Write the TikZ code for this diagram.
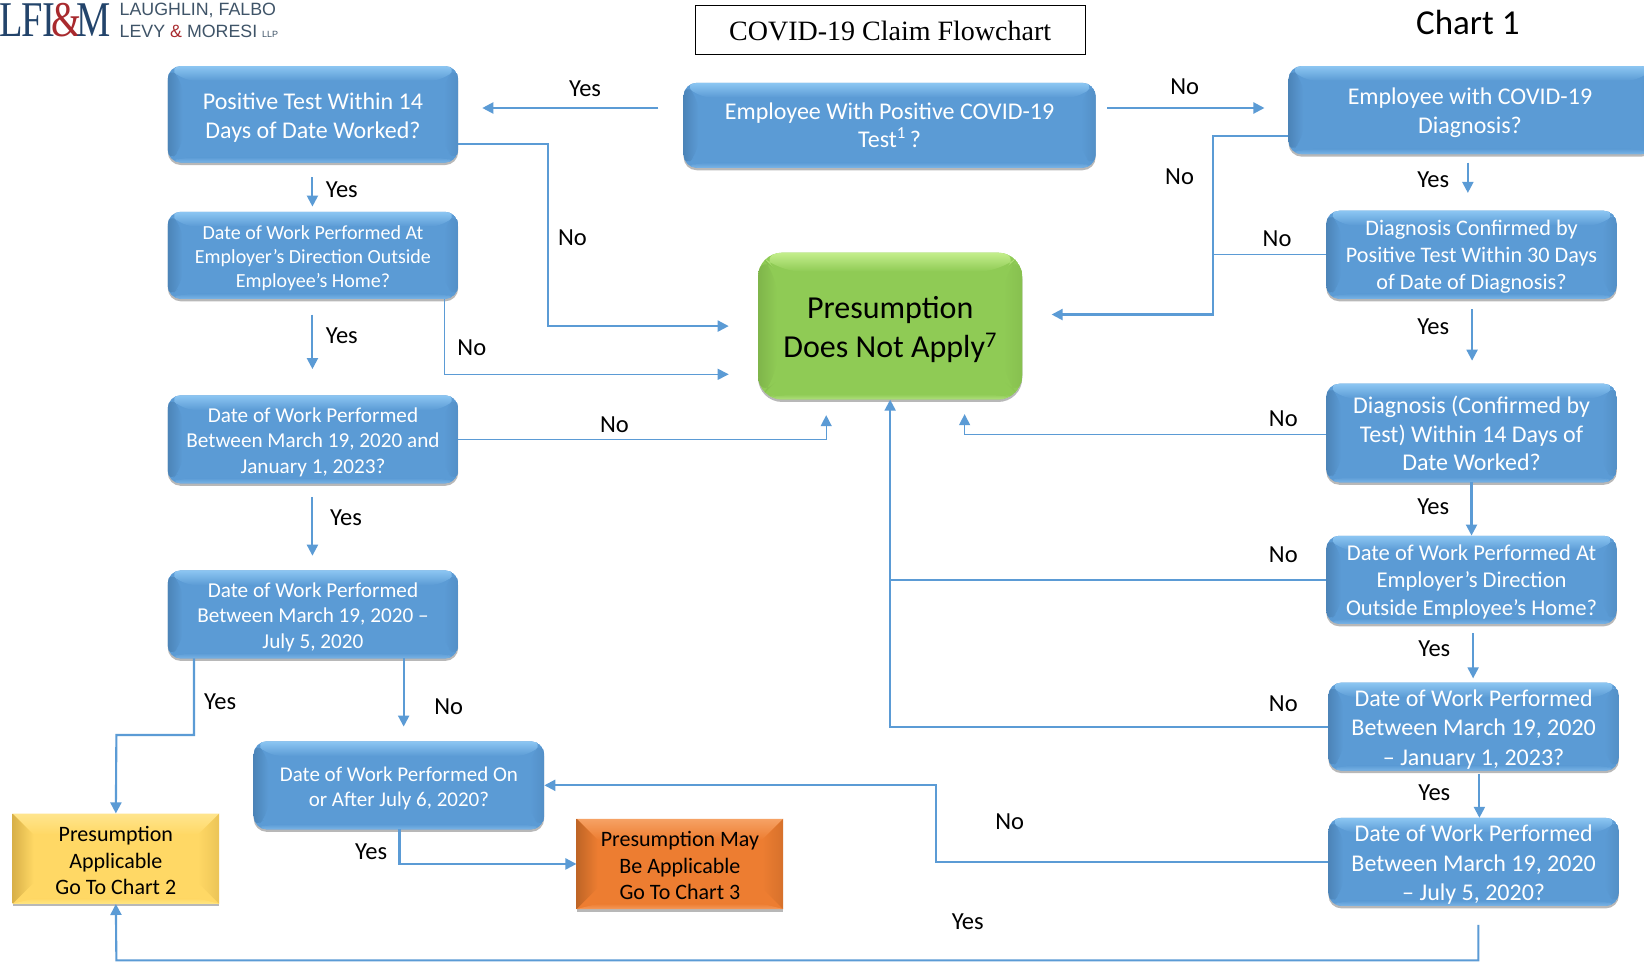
\documentclass[tikz,border=0pt]{standalone}
\usepackage{fontspec}
\usepackage{graphicx}
\setmainfont{Carlito}
\newfontfamily\ttl{Liberation Serif}
\newfontfamily\lgs{Liberation Sans}
\usetikzlibrary{arrows.meta,shadows,calc}
\definecolor{ln}{HTML}{5B9BD5}
\definecolor{navy}{HTML}{23446B}
\definecolor{lred}{HTML}{A82A2E}
\definecolor{logog}{HTML}{3F5468}
\definecolor{bB}{HTML}{5B9BD5}\definecolor{bL}{HTML}{8CC6F2}\definecolor{bD}{HTML}{4C84B8}\definecolor{bE}{HTML}{7AB4E6}
\definecolor{gB}{HTML}{8FCB55}\definecolor{gL}{HTML}{C4EE8C}\definecolor{gD}{HTML}{7FB54A}\definecolor{gE}{HTML}{B0E07C}
\definecolor{yB}{HTML}{FFD865}\definecolor{yL}{HTML}{FFE58E}\definecolor{yD}{HTML}{D8B048}\definecolor{yE}{HTML}{FFE684}
\definecolor{oB}{HTML}{ED7D31}\definecolor{oL}{HTML}{F6A265}\definecolor{oD}{HTML}{BF6526}\definecolor{oE}{HTML}{F49A5C}
\newcommand\tp[1]{\rule{0pt}{#1pt}}
\newcommand\bevelpic[5]{%
  \coordinate (sw) at (path picture bounding box.south west);
  \coordinate (ne) at (path picture bounding box.north east);
  \coordinate (nw) at (sw |- ne);
  \coordinate (se) at (ne |- sw);
  \fill[#1] (sw) rectangle (ne);
  \shade[top color=#2,bottom color=#1] (nw) -- (ne) -- ($(ne)+(-#5,#5)$) -- ($(nw)+(#5,#5)$) -- cycle;
  \shade[left color=#3,right color=#1] (nw) -- ($(nw)+(#5,#5)$) -- ($(sw)+(#5,-#5)$) -- (sw) -- cycle;
  \shade[left color=#1,right color=#3!50!#1] (ne) -- ($(ne)+(-#5,#5)$) -- ($(se)+(-#5,-#5)$) -- (se) -- cycle;
  \shade[top color=#1,bottom color=#4] ($(sw)+(#5,-5)$) -- ($(se)+(-#5,-5)$) -- (se) -- (sw) -- cycle;
}
\tikzset{
  x=1.0485pt,y=-1.0485pt,
  conn/.style={draw=ln,line width=2.1pt},
  thinconn/.style={draw=ln,line width=1.3pt},
  arr/.style={-{Triangle[length=11pt,width=11pt]}},
  lab/.style={font=\fontsize{24.5}{28}\selectfont,inner sep=0pt,text=black},
  boxbase/.style={align=center,inner sep=0pt,draw=none,
    drop shadow={shadow xshift=0pt,shadow yshift=-2.5pt,opacity=.28,fill=black}},
  blu/.style={boxbase,rounded corners=13pt,text=white,path picture={\bevelpic{bB}{bL}{bD}{bE}{14}}},
  grn/.style={boxbase,rounded corners=24pt,text=black,path picture={\bevelpic{gB}{gL}{gD}{gE}{18}}},
  yel/.style={boxbase,text=black,path picture={\bevelpic{yB}{yL}{yD}{yE}{20}}},
  org/.style={boxbase,text=black,path picture={\bevelpic{oB}{oL}{oD}{oE}{20}}},
}
\newcommand\bx[7]{\node[#6,minimum width={(#4-#2)*1.0485pt},minimum height={(#5-#3)*1.0485pt}] (#1) at ({(#2+#4)/2},{(#3+#5)/2}) {#7};}
\begin{document}
\begin{tikzpicture}
\useasboundingbox (0,0) rectangle (1568,917.5);
\fill[white] (0,0) rectangle (1568,917.5);
% logo
\node[anchor=base east,inner sep=0pt,text=navy,font=\ttl\fontsize{50}{50}\selectfont] (logo) at (106,35) {\scalebox{.77}[1]{L\kern-2ptF\kern-1ptI\kern-5pt\textcolor{lred}{\&}\kern-6ptM}};
\node[anchor=base west,inner sep=0pt,text=logog,font=\lgs\fontsize{17.8}{20}\selectfont] (logoa) at (114,15) {LAUGHLIN, FALBO};
\node[anchor=base west,inner sep=0pt,text=logog,font=\lgs\fontsize{17.8}{20}\selectfont] (logob) at (114,36) {LEVY \textcolor{lred}{\&} MORESI {\fontsize{9}{9}\selectfont LLP}};
% title
\node[draw=black,line width=1.3pt,fill=white,font=\ttl\fontsize{28}{32}\selectfont,minimum width=390pt,minimum height=49pt,inner sep=0pt] (title) at (849,28.5) {\tp{22}COVID-19 Claim Flowchart};
\node[font=\fontsize{35}{38}\selectfont,inner sep=0pt] (chart) at (1400,21) {Chart 1};
% boxes
\bx{pos}{160}{63}{437}{155}{blu,font=\fontsize{24}{28.5}\selectfont}{\tp{23}Positive Test Within 14\\Days of Date Worked?}
\bx{emp}{652}{79}{1045}{160}{blu,font=\fontsize{24}{28.5}\selectfont}{Employee With Positive COVID-19\\Test\textsuperscript{1}\,?}
\bx{dx}{1229}{63}{1578}{147}{blu}{}
\node[font=\fontsize{24}{28.5}\selectfont,text=white,align=center,inner sep=0pt] (dxt) at (1402,105) {\tp{22}Employee with COVID-19\\Diagnosis?};
\bx{conf}{1265}{201}{1542}{285}{blu,font=\fontsize{22.2}{26.8}\selectfont}{\tp{19}Diagnosis Confirmed by\\Positive Test Within 30 Days\\of Date of Diagnosis?}
\bx{dwd}{160}{202}{437}{285}{blu,font=\fontsize{20}{24}\selectfont}{\tp{20}Date of Work Performed At\\Employer’s Direction Outside\\Employee’s Home?}
\bx{dates}{160}{377}{437}{461}{blu,font=\fontsize{21.2}{25.5}\selectfont}{\tp{20}Date of Work Performed\\Between March 19, 2020 and\\January 1, 2023?}
\bx{dwp}{160}{544}{437}{628}{blu,font=\fontsize{21.2}{25.5}\selectfont}{\tp{20}Date of Work Performed\\Between March 19, 2020 --\\July 5, 2020}
\bx{after}{242}{707}{519}{791}{blu,font=\fontsize{21}{25.5}\selectfont}{\tp{21}Date of Work Performed On\\or After July 6, 2020?}
\bx{papp}{12}{776}{209}{862}{yel,font=\fontsize{22}{26.5}\selectfont}{\tp{19}Presumption\\Applicable\\Go To Chart 2}
\bx{pmay}{550}{781}{747}{867}{org,font=\fontsize{22}{26.5}\selectfont}{\tp{19}Presumption May\\Be Applicable\\Go To Chart 3}
\bx{green}{723}{241}{975}{381}{grn,font=\fontsize{32}{39}\selectfont}{\tp{28}Presumption\\Does Not Apply\textsuperscript{7}}
\bx{dfourteen}{1265}{366}{1542}{460}{blu,font=\fontsize{24}{28.5}\selectfont}{\tp{19}Diagnosis (Confirmed by\\Test) Within 14 Days of\\Date Worked?}
\bx{dwa}{1265}{511}{1542}{595}{blu,font=\fontsize{22.6}{27.2}\selectfont}{\tp{20}Date of Work Performed At\\Employer’s Direction\\Outside Employee’s Home?}
\bx{jan}{1267}{651}{1544}{735}{blu,font=\fontsize{24}{29.5}\selectfont}{\tp{22}Date of Work Performed\\Between March 19, 2020\\-- January 1, 2023?}
\bx{jul}{1267}{780}{1544}{864}{blu,font=\fontsize{24}{29.5}\selectfont}{\tp{23}Date of Work Performed\\Between March 19, 2020\\-- July 5, 2020?}
% free ends
\coordinate (a1) at (628,103); \coordinate (a2) at (460,103);
\coordinate (b1) at (1056,103); \coordinate (b2) at (1206,103);
\coordinate (c1) at (1157,130); \coordinate (c2) at (1003,300);
\coordinate (d1) at (1400,155); \coordinate (d2) at (1400,184);
\coordinate (e1) at (1404,295); \coordinate (e2) at (1404,344);
\coordinate (f1) at (920,395);
\coordinate (g1) at (1405,604); \coordinate (g2) at (1405,647);
\coordinate (h1) at (1411,738); \coordinate (h2) at (1411,780);
\coordinate (i1) at (893,749);
\coordinate (j1) at (1410,882); \coordinate (j2) at (111,916);
\coordinate (k1) at (298,169); \coordinate (k2) at (298,197);
\coordinate (l1) at (523,311); \coordinate (l2) at (695,311);
\coordinate (m1) at (424,285); \coordinate (m2) at (695,357);
\coordinate (n1) at (298,300); \coordinate (n2) at (298,352);
\coordinate (o1) at (788,396);
\coordinate (p1) at (298,474); \coordinate (p2) at (298,530);
\coordinate (q1) at (185,628); \coordinate (q2) at (111,701);
\coordinate (r1) at (385,628); \coordinate (r2) at (385,693);
\coordinate (s1) at (381,791);
% connectors
\draw[conn,arr] (a1) -- (a2);
\draw[conn,arr] (b1) -- (b2);
\draw[conn,arr] ($(dx.west)+(0,25)$) -- (c1) |- (c2);
\draw[thinconn] (conf.west) -- (conf.west -| c1);
\draw[conn,arr] (d1) -- (d2);
\draw[conn,arr] (e1) -- (e2);
\draw[conn,arr] ($(dfourteen.south)+(0,-0.5)$) -- (dwa.north);
\draw[thinconn,arr] ($(dfourteen.west)+(0,1.5)$) -| (f1);
\draw[conn] (dwa.west) -- (dwa.west -| green.south);
\draw[conn,arr] (g1) -- (g2);
\draw[conn,arr] (jan.west) -| (green.south);
\draw[conn,arr] (h1) -- (h2);
\draw[conn,arr] (jul.west) -| (i1) -- (after.east);
\draw[conn,arr] (j1) |- (j2) -- (papp.south);
\draw[conn,arr] (k1) -- (k2);
\draw[conn,arr] ($(pos.east)+(0,28)$) -| (l1) -- (l2);
\draw[thinconn,arr] (m1) |- (m2);
\draw[conn,arr] (n1) -- (n2);
\draw[thinconn,arr] (dates.east) -| (o1);
\draw[conn,arr] (p1) -- (p2);
\draw[conn,arr] (q1) |- (q2) -- (papp.north);
\draw[conn,arr] (r1) -- (r2);
\draw[conn,arr] (s1) |- (pmay.west);
% labels
\node[lab] (t1) at (558,85) {Yes};
\node[lab] (t2) at (1130,83) {No};
\node[lab] (t3) at (1125,169) {No};
\node[lab] (t4) at (1367,171) {Yes};
\node[lab] (t5) at (1218,228) {No};
\node[lab] (t6) at (1367,312) {Yes};
\node[lab] (t7) at (1224,399) {No};
\node[lab] (t8) at (1367,483) {Yes};
\node[lab] (t9) at (1224,529) {No};
\node[lab] (t10) at (1368,619) {Yes};
\node[lab] (t11) at (1224,671) {No};
\node[lab] (t12) at (1368,756) {Yes};
\node[lab] (t13) at (963,784) {No};
\node[lab] (t14) at (923,879) {Yes};
\node[lab] (t15) at (326,181) {Yes};
\node[lab] (t16) at (546,227) {No};
\node[lab] (t17) at (450,332) {No};
\node[lab] (t18) at (326,320) {Yes};
\node[lab] (t19) at (586,405) {No};
\node[lab] (t20) at (330,494) {Yes};
\node[lab] (t21) at (210,669) {Yes};
\node[lab] (t22) at (428,674) {No};
\node[lab] (t23) at (354,812) {Yes};
\end{tikzpicture}
\end{document}
